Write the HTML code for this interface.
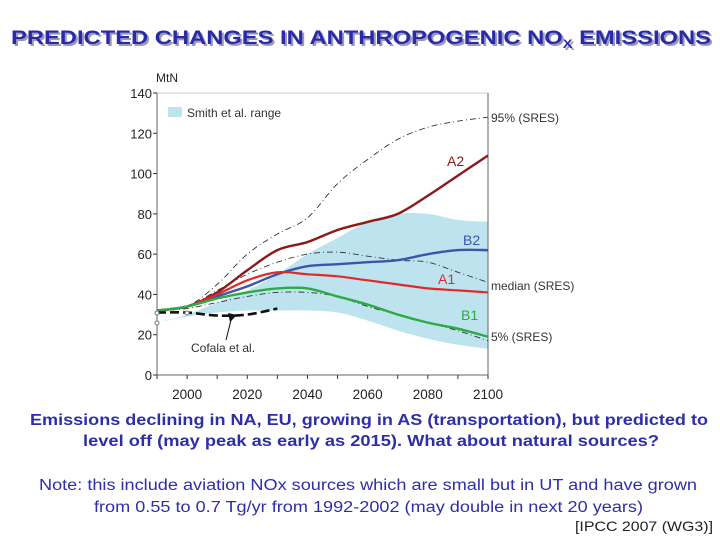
<!DOCTYPE html>
<html><head><meta charset="utf-8"><style>
html,body{margin:0;padding:0;background:#fff;}
svg{display:block;font-family:"Liberation Sans",Arial,sans-serif;}
</style></head><body>
<svg id="chart" width="720" height="540" viewBox="0 0 720 540">
<g>
<text x="13" y="46" font-size="19.5" font-weight="bold" fill="#9a9ab8" textLength="700" lengthAdjust="spacingAndGlyphs">PREDICTED CHANGES IN ANTHROPOGENIC NO<tspan font-size="12" dy="4">X</tspan><tspan dy="-4"> EMISSIONS</tspan></text>
<text x="11" y="44" font-size="19.5" font-weight="bold" fill="#2a2aa8" textLength="700" lengthAdjust="spacingAndGlyphs">PREDICTED CHANGES IN ANTHROPOGENIC NO<tspan font-size="12" dy="4">X</tspan><tspan dy="-4"> EMISSIONS</tspan></text>
</g>
<g id="plot"></g>
<g font-weight="bold" fill="#2e2ea8" font-size="16">
<text x="30" y="425" textLength="678" lengthAdjust="spacingAndGlyphs">Emissions declining in NA, EU, growing in AS (transportation), but predicted to</text>
<text x="83" y="446" textLength="576" lengthAdjust="spacingAndGlyphs">level off (may peak as early as 2015).  What about natural sources?</text>
</g>
<g fill="#2e2ea8" font-size="15.5">
<text x="39" y="490" textLength="658" lengthAdjust="spacingAndGlyphs">Note: this include aviation NOx sources which are small but in UT and have grown</text>
<text x="94" y="512" textLength="549" lengthAdjust="spacingAndGlyphs">from 0.55 to 0.7 Tg/yr from 1992-2002 (may double in next 20 years)</text>
</g>
<text x="575" y="531" font-size="14" fill="#222" textLength="138" lengthAdjust="spacingAndGlyphs">[IPCC 2007 (WG3)]</text>
</svg>
<script>
const years=[1990,2000,2010,2020,2030,2040,2050,2060,2070,2080,2090,2100];
const yTicks=[0,20,40,60,80,100,120,140];
const xTicks=[2000,2020,2040,2060,2080,2100];
const smithUpper=[26,30,36,42,50,60,68,76,80,80,77,76];
const smithLower=[26,29,31,32,32,32,31,27,22,18,15,13];
const p95=[32,34,45,60,70,78,95,107,117,123,126,128];
const median=[32,34,42,50,56,60,61,59,57,56,51,46];
const p5=[32,33,36,39,41,41,39,34,30,26,22,17];
const a2=[32,34,41,52,62,66,72,76,80,89,99,109];
const a1=[32,34,40,47,51,50,49,47,45,43,42,41];
const b2=[32,34,39,44,50,54,55,56,57,60,62,62];
const b1=[32,34,38,41,43,43,39,35,30,26,23,19];
const cofalaYears=[1990,2000,2010,2020,2030];
const cofala=[31,31,29.5,30,33];

const NS='http://www.w3.org/2000/svg';
const X0=157,X1=488,Y0=375,Y1=93;
const xs=y=>X0+(y-1990)/(110)*(X1-X0);
const ys=v=>Y0-v/140*(Y0-Y1);
const plot=document.getElementById('plot');
function mk(tag,attrs){const e=document.createElementNS(NS,tag);for(const k in attrs)e.setAttribute(k,attrs[k]);plot.appendChild(e);return e;}
function smooth(pts){let d='M'+pts[0][0]+','+pts[0][1];for(let i=0;i<pts.length-1;i++){const p0=pts[i-1]||pts[i],p1=pts[i],p2=pts[i+1],p3=pts[i+2]||p2;const c1=[p1[0]+(p2[0]-p0[0])/6,p1[1]+(p2[1]-p0[1])/6],c2=[p2[0]-(p3[0]-p1[0])/6,p2[1]-(p3[1]-p1[1])/6];d+=' C'+c1+' '+c2+' '+p2;}return d;}
function pts(xv,yv){return xv.map((x,i)=>[xs(x),ys(yv[i])]);}

const up=pts(years,smithUpper),lo=pts(years,smithLower).reverse();
const band=mk('path',{d:smooth(up)+' L'+smooth(lo).slice(1)+' Z',fill:'#bde4ee'});



const frame=mk('path',{d:`M${X0},${Y1} V${Y0} H${X1} V${Y1}`,fill:'none',stroke:'#666','stroke-width':1});


mk('line',{x1:X0,y1:Y1,x2:X1,y2:Y1,stroke:'#999','stroke-width':0.6});

yTicks.forEach(t=>{
  const tk=mk('line',{x1:X0-4,x2:X0,y1:ys(t),y2:ys(t),stroke:'#333'});
  
  
  const l=mk('text',{x:X0-5,y:ys(t)+5,'font-size':13,'text-anchor':'end',fill:'#222'});l.textContent=t;
  
  
});
for(let y=1990;y<=2100;y+=10){mk('line',{x1:xs(y),x2:xs(y),y1:Y0,y2:Y0+4,stroke:'#333'});}
xTicks.forEach(t=>{
  const l=mk('text',{x:xs(t),y:Y0+24,'font-size':13.5,'text-anchor':'middle',fill:'#222'});l.textContent=t;
  
  
});
const yt=mk('text',{x:156,y:82,'font-size':12,fill:'#222'});yt.textContent='MtN';



function line(v,name,color,w,dash,xv){const p=mk('path',{d:smooth(pts(xv||years,v)),fill:'none',stroke:color,'stroke-width':w});if(dash)p.setAttribute('stroke-dasharray',dash);

return p;}
line(p95,'line-95pct-sres','#333',0.9,'6,3,1,3');
line(median,'line-median-sres','#333',0.9,'6,3,1,3');
line(p5,'line-5pct-sres','#333',0.9,'6,3,1,3');
line(a2,'line-a2','#8b1a1a',2.4);
line(b2,'line-b2','#3a55aa',2.4);
line(a1,'line-a1','#e02a2a',2.2);
line(b1,'line-b1','#2eaa44',2.4);
line(cofala,'line-cofala','#111',2.6,'9,4',cofalaYears);

const lg=mk('rect',{x:168,y:107,width:14,height:10,fill:'#bde4ee'});


function lab(x,y,t,c,s,name){const e=mk('text',{x:x,y:y,'font-size':s||12,fill:c});e.textContent=t;

}
lab(187,117,'Smith et al. range','#333',12,'legend-entry');
lab(491,122,'95% (SRES)','#333',12,'label-95pct');
lab(491,290,'median (SRES)','#333',12,'label-median');
lab(491,341,'5% (SRES)','#333',12,'label-5pct');
lab(447,166,'A2','#8b1a1a',14,'label-a2');
lab(463,245,'B2','#3a55aa',14,'label-b2');
lab(438,284,'A1','#e02a2a',14,'label-a1');
lab(461,320,'B1','#2eaa44',14,'label-b1');
lab(191,352,'Cofala et al.','#333',12,'label-cofala');
const ar=mk('path',{d:'M226,340 L232,316',stroke:'#111',fill:'none'});


mk('path',{d:'M228,313 L237,315 L230,322 Z',fill:'#111'});
[[157,313],[187,313],[157,323]].forEach(c=>mk('circle',{cx:c[0],cy:c[1],r:2,fill:'#fff',stroke:'#777'}));
</script>
</body></html>
